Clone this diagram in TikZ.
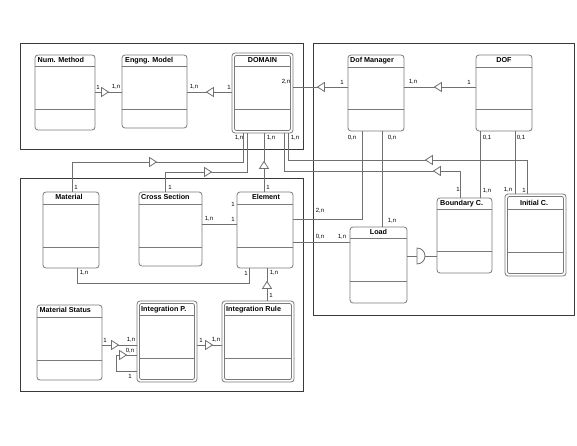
\documentclass[tikz,border=0pt]{standalone}
\usepackage{fontspec}
\setmainfont{Liberation Sans}
\usetikzlibrary{fit}
\definecolor{frm}{HTML}{3A3A3A}
\definecolor{bx}{HTML}{7A7A7A}
\definecolor{cn}{HTML}{707070}
\tikzset{
 box/.style={draw=bx, line width=0.8pt, rounded corners=3pt, inner sep=0pt},
 sep/.style={draw=bx, line width=0.8pt},
 frame/.style={draw=frm, line width=1pt},
 conn/.style={draw=cn, line width=0.8pt},
 ttl/.style={font=\bfseries\fontsize{7.2}{8}\selectfont, inner sep=0pt, text height=5.2pt, text depth=1.4pt},
 lbl/.style={font=\fontsize{6}{7}\selectfont, inner sep=0pt},
 tri/.pic={\draw[conn, fill=white] (3.5,0) -- (-3.5,4.5) -- (-3.5,-4.5) -- cycle;}
}
\newcommand\umlbox[7]{%
 \node[box, fit={(#2,#3)(#4,#5)}] (#1) {};
 \draw[sep] (#1.west |- 0,#6) -- (#1.east |- 0,#6);
 \draw[sep] (#1.west |- 0,#7) -- (#1.east |- 0,#7);
}
\newcommand\dblbox[7]{%
 \node[box, fit={(#2,#3)(#4,#5)}] (#1) {};
 \node[box, rounded corners=2pt, fit={({#2+2.5},{#3+2.5})({#4-2.5},{#5-2.5})}] (#1-in) {};
 \draw[sep] (#1-in.west |- 0,#6) -- (#1-in.east |- 0,#6);
 \draw[sep] (#1-in.west |- 0,#7) -- (#1-in.east |- 0,#7);
}
\begin{document}
\begin{tikzpicture}[x=1pt,y=-1pt]
\useasboundingbox (0,0) rectangle (577,446);
\fill[white] (0,0) rectangle (577,446);
% frames
\draw[frame] (20,44) rectangle (303,150);
\draw[frame] (313,44) rectangle (574,315);
\draw[frame] (20,179) rectangle (303,391);
% boxes
\umlbox{nm}{35}{55}{95}{130}{66}{109}
\umlbox{em}{122}{55}{187}{128}{66}{109}
\dblbox{dom}{232}{53}{293}{133}{66}{109}
\umlbox{dm}{348}{55}{404}{131}{67}{109}
\umlbox{dof}{476}{55}{532}{131}{67}{109}
\umlbox{mat}{43}{192}{99}{268}{204}{247}
\umlbox{cs}{139}{192}{202}{266}{204}{247}
\umlbox{el}{237}{192}{293}{268}{204}{247}
\umlbox{bc}{437}{198}{492}{273}{209}{251}
\dblbox{ic}{505}{194}{566}{276}{209}{252}
\umlbox{ld}{350}{227}{407}{303}{238}{281}
\umlbox{ms}{37}{305}{102}{380}{317}{360}
\dblbox{ip}{137}{301}{197}{382}{315}{358}
\dblbox{ir}{222}{301}{294}{382}{315}{358}
% titles
\node[ttl, anchor=west] (nm-t) at (37.5,60.5) {Num. Method};
\node[ttl, anchor=west] (em-t) at (125,60.5) {Engng. Model};
\node[ttl] (dom-t) at (262.5,60.5) {DOMAIN};
\node[ttl, anchor=west] (dm-t) at (350,61) {Dof Manager};
\node[ttl] (dof-t) at (504,61) {DOF};
\node[ttl] (mat-t) at (69,198) {Material};
\node[ttl, anchor=west] (cs-t) at (141,198) {Cross Section};
\node[ttl] (el-t) at (266,198) {Element};
\node[ttl, anchor=west] (bc-t) at (440,203.5) {Boundary C.};
\node[ttl] (ic-t) at (534,203.5) {Initial C.};
\node[ttl] (ld-t) at (378.5,232.5) {Load};
\node[ttl, anchor=west] (ms-t) at (39.5,311) {Material Status};
\node[ttl, anchor=west] (ip-t) at (141,309.5) {Integration P.};
\node[ttl, anchor=west] (ir-t) at (226,309.5) {Integration Rule};
% connectors
\draw[conn] (nm.east |- 0,92) -- (em.west |- 0,92);
\draw[conn] (dom.west |- 0,92) -- (em.east |- 0,92);
\draw[conn] (dom.east |- 0,87) -- (dm.west |- 0,87);
\draw[conn] (dof.west |- 0,87) -- (dm.east |- 0,87);
\draw[conn] (mat.north -| 72,0) |- (243,162) -- (dom.south -| 243,0);
\draw[conn] (cs.north -| 165,0) |- (247,172) -- (dom.south -| 247,0);
\draw[conn] (el.north -| 264,0) -- (dom.south -| 264,0);
\draw[conn] (dom.south -| 288,0) |- (527,160) -- (ic.north -| 527,0);
\draw[conn] (dom.south -| 284,0) |- (460,171) -- (bc.north -| 460,0);
\draw[conn] (dof.south -| 480,0) -- (bc.north -| 480,0);
\draw[conn] (dof.south -| 515,0) -- (ic.north -| 515,0);
\draw[conn] (dm.south -| 362,0) |- (el.east |- 0,219);
\draw[conn] (dm.south -| 382,0) -- (ld.north -| 382,0);
\draw[conn] (el.east |- 0,242) -- (ld.west |- 0,242);
\coordinate (sk) at (417,256);
\coordinate (sk2) at (425,256);
\draw[conn] (ld.east |- sk) -- (sk);
\draw[conn] (sk2) -- (bc.west |- sk2);
\draw[conn, fill=white] (417,248) arc (-90:90:8) -- cycle;
\draw[conn] (cs.east |- 0,224) -- (el.west |- 0,224);
\draw[conn] (mat.south -| 77,0) |- (249,283) -- (el.south -| 249,0);
\draw[conn] (ir.north -| 267,0) -- (el.south -| 267,0);
\draw[conn] (ms.east |- 0,345) -- (ip.west |- 0,345);
\draw[conn] (ip.west |- 0,371) -| (116,355) -- (ip.west |- 0,355);
\draw[conn] (ip.east |- 0,345) -- (ir.west |- 0,345);
% arrow heads
\pic at (105,92) {tri};
\pic[rotate=180] at (210,92) {tri};
\pic[rotate=180] at (321,87) {tri};
\pic[rotate=180] at (438,87) {tri};
\pic at (153,162) {tri};
\pic at (208,172) {tri};
\pic[rotate=90] at (264,165) {tri};
\pic[rotate=180] at (429,160) {tri};
\pic[rotate=180] at (437,171) {tri};
\pic[rotate=90] at (267,285) {tri};
\pic at (115,345) {tri};
\pic at (123,355) {tri};
\pic at (209,345) {tri};
% labels
\node[lbl] (l1) at (98,87) {1};
\node[lbl] (l2) at (116,87) {1,n};
\node[lbl] (l3) at (194,87) {1,n};
\node[lbl] (l4) at (229,87) {1};
\node[lbl] (l5) at (286,82) {2,n};
\node[lbl] (l6) at (342,82) {1};
\node[lbl] (l7) at (413,82) {1,n};
\node[lbl] (l8) at (469,82) {1};
\node[lbl] (l9) at (239,138) {1,n};
\node[lbl] (l10) at (271,138) {1,n};
\node[lbl] (l11) at (295,138) {1,n};
\node[lbl] (l12) at (352,138) {0,n};
\node[lbl] (l13) at (392,138) {0,n};
\node[lbl] (l14) at (487,138) {0,1};
\node[lbl] (l15) at (521,138) {0,1};
\node[lbl] (l16) at (76,187) {1};
\node[lbl] (l17) at (170,187) {1};
\node[lbl] (l18) at (268,187) {1};
\node[lbl] (l19) at (458,189) {1};
\node[lbl] (l20) at (487,191) {1,n};
\node[lbl] (l21) at (508,190) {1,n};
\node[lbl] (l22) at (524,190) {1};
\node[lbl] (l23) at (233,204) {1};
\node[lbl] (l24) at (209,219) {1,n};
\node[lbl] (l25) at (233,219) {1};
\node[lbl] (l26) at (320,211) {2,n};
\node[lbl] (l27) at (392,221) {1,n};
\node[lbl] (l28) at (320,237) {0,n};
\node[lbl] (l29) at (342,237) {1,n};
\node[lbl] (l30) at (84,273) {1,n};
\node[lbl] (l31) at (246,273) {1};
\node[lbl] (l32) at (274,273) {1,n};
\node[lbl] (l33) at (271,295) {1};
\node[lbl] (l34) at (105,340) {1};
\node[lbl] (l35) at (131,340) {1,n};
\node[lbl] (l36) at (130,351) {0,n};
\node[lbl] (l37) at (130,376) {1};
\node[lbl] (l38) at (201,340) {1};
\node[lbl] (l39) at (216,340) {1,n};
\end{tikzpicture}
\end{document}
